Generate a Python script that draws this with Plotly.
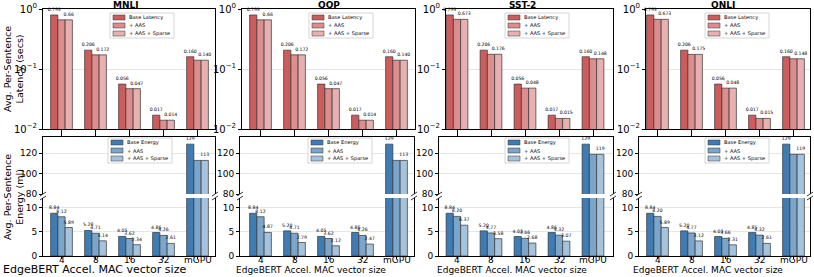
import plotly.graph_objects as go

W, H = 814, 277
FONT = "DejaVu Sans"

categories = ["4", "8", "16", "32", "mGPU"]
tasks = ["MNLI", "QQP", "SST-2", "QNLI"]
lat_names = ["Base Latency", "+ AAS", "+ AAS + Sparse"]
eng_names = ["Base Energy", "+ AAS", "+ AAS + Sparse"]

# Avg. per-sentence latency (secs)
lat_base_mnli = [0.795, 0.206, 0.056, 0.017, 0.160]
lat_aas_mnli = [0.660, 0.172, 0.047, 0.014, 0.140]
lat_sparse_mnli = [0.660, 0.172, 0.047, 0.014, 0.140]
lat_base_qqp = [0.795, 0.206, 0.056, 0.017, 0.160]
lat_aas_qqp = [0.660, 0.172, 0.047, 0.014, 0.140]
lat_sparse_qqp = [0.660, 0.172, 0.047, 0.014, 0.140]
lat_base_sst2 = [0.795, 0.206, 0.056, 0.017, 0.160]
lat_aas_sst2 = [0.673, 0.176, 0.048, 0.015, 0.148]
lat_sparse_sst2 = [0.673, 0.176, 0.048, 0.015, 0.148]
lat_base_qnli = [0.795, 0.206, 0.056, 0.017, 0.160]
lat_aas_qnli = [0.673, 0.175, 0.048, 0.015, 0.148]
lat_sparse_qnli = [0.673, 0.175, 0.048, 0.015, 0.148]

# Avg. per-sentence energy (mJ)
eng_base_mnli = [8.84, 5.28, 4.05, 4.86, 129]
eng_aas_mnli = [8.12, 4.71, 3.62, 4.26, 113]
eng_sparse_mnli = [5.89, 3.14, 2.34, 2.61, 113]
eng_base_qqp = [8.84, 5.20, 4.05, 4.86, 129]
eng_aas_qqp = [8.12, 4.71, 3.62, 4.26, 113]
eng_sparse_qqp = [4.87, 2.79, 2.12, 2.47, 113]
eng_base_sst2 = [8.84, 5.20, 4.03, 4.86, 129]
eng_aas_sst2 = [8.20, 4.77, 3.66, 4.32, 119]
eng_sparse_sst2 = [6.37, 3.58, 2.68, 3.07, 119]
eng_base_qnli = [8.84, 5.20, 4.03, 4.85, 129]
eng_aas_qnli = [8.20, 4.77, 3.66, 4.32, 119]
eng_sparse_qnli = [5.89, 3.12, 2.31, 2.61, 119]

latency = [
    (lat_base_mnli, lat_aas_mnli, lat_sparse_mnli),
    (lat_base_qqp, lat_aas_qqp, lat_sparse_qqp),
    (lat_base_sst2, lat_aas_sst2, lat_sparse_sst2),
    (lat_base_qnli, lat_aas_qnli, lat_sparse_qnli),
]
energy = [
    (eng_base_mnli, eng_aas_mnli, eng_sparse_mnli),
    (eng_base_qqp, eng_aas_qqp, eng_sparse_qqp),
    (eng_base_sst2, eng_aas_sst2, eng_sparse_sst2),
    (eng_base_qnli, eng_aas_qnli, eng_sparse_qnli),
]

reds = ["#cd5c5c", "#dc8d8d", "#e8b0b0"]
blues = ["#3f7cb3", "#7ba5ca", "#a6c3de"]

# layout geometry (pixels)
top_x = [(43, 215), (242, 415), (446, 613), (646, 810)]
bot_x = [(43, 215), (240, 414), (439, 613), (639, 810)]
g0 = [61.5, 260.5, 457, 657.5]
unit = 34.0
TOP_Y = (9, 129)
UP_Y = (137, 194)
LOW_Y = (198, 256)
title_cx = [126, 329, 522, 723]
xtitle_cx = [94, 311, 512, 708]
xtitle_fs = [11, 9, 9, 9]


def px(x):
    return x / W


def py(y):
    return 1 - y / H


def lat_label(v):
    s = f"{v:.3f}"
    return "0.66" if s == "0.660" else s


def eng_label(v, i):
    return f"{v:.0f}" if i == 4 else f"{v:.2f}"


fig = go.Figure()
layout = {}
shapes = []
annotations = []

axis_common = dict(
    showline=True, linecolor="black", linewidth=1, ticks="outside",
    ticklen=3, tickwidth=0.8, tickcolor="black", automargin=False,
    tickfont=dict(family=FONT, size=9, color="black"), zeroline=False,
)

for p in range(4):
    n_top, n_up, n_low = 3 * p + 1, 3 * p + 2, 3 * p + 3

    def ax(n):
        return ("x" if n == 1 else f"x{n}", "y" if n == 1 else f"y{n}")

    # ---- latency panel
    xa, ya = ax(n_top)
    for k in range(3):
        vals = latency[p][k]
        if k == 1:
            txt = [""] * len(vals)
        else:
            txt = [lat_label(v) for v in vals]
        fig.add_trace(go.Bar(
            x=categories, y=vals, xaxis=xa, yaxis=ya, name=lat_names[k],
            marker=dict(color=reds[k], line=dict(color="#333333", width=0.7)),
            text=txt, textposition="outside", textangle=0,
            constraintext="none", cliponaxis=False,
            textfont=dict(family=FONT, size=4.6, color="black"),
            showlegend=False,
        ))
    l, r = top_x[p]
    rng = [(l - g0[p]) / unit, (r - g0[p]) / unit]
    layout["xaxis" if n_top == 1 else f"xaxis{n_top}"] = dict(
        axis_common, domain=[px(l), px(r)], range=rng, anchor=ya,
        mirror=True, showticklabels=False, showgrid=False, type="category",
    )
    layout["yaxis" if n_top == 1 else f"yaxis{n_top}"] = dict(
        axis_common, domain=[py(TOP_Y[1]), py(TOP_Y[0])], type="log",
        range=[-2, 0], anchor=xa, mirror=True,
        tickvals=[0.01, 0.1, 1],
        ticktext=["10<sup>\u22122</sup>", "10<sup>\u22121</sup>", "10<sup>0</sup>"],
        showgrid=True, gridcolor="#e6e6e6", gridwidth=0.8,
        tickfont=dict(family=FONT, size=10, color="black"),
    )

    # ---- energy panels (broken axis)
    l, r = bot_x[p]
    rng = [(l - g0[p]) / unit, (r - g0[p]) / unit]
    for n, part in ((n_up, "up"), (n_low, "low")):
        xa, ya = ax(n)
        for k in range(3):
            vals = energy[p][k]
            txt = []
            for i, v in enumerate(vals):
                if part == "up":
                    txt.append(eng_label(v, i) if (i == 4 and k != 1) else "")
                else:
                    txt.append(eng_label(v, i) if i < 4 else "")
            fig.add_trace(go.Bar(
                x=categories, y=vals, xaxis=xa, yaxis=ya, name=eng_names[k],
                marker=dict(color=blues[k], line=dict(color="#333333", width=0.7)),
                text=txt, textposition="outside", textangle=0,
                constraintext="none", cliponaxis=True,
                textfont=dict(family=FONT, size=4.6, color="black"),
                showlegend=False,
            ))
        if part == "up":
            layout[f"xaxis{n}"] = dict(
                axis_common, domain=[px(l), px(r)], range=rng, anchor=ya,
                side="top", mirror=False, showticklabels=False,
                showgrid=False, type="category",
            )
            layout[f"yaxis{n}"] = dict(
                axis_common, domain=[py(UP_Y[1]), py(UP_Y[0])],
                range=[80, 136], anchor=xa, mirror=True,
                tickvals=[80, 100, 120], showgrid=True,
                gridcolor="#e6e6e6", gridwidth=0.8,
            )
        else:
            layout[f"xaxis{n}"] = dict(
                axis_common, domain=[px(l), px(r)], range=rng, anchor=ya,
                side="bottom", mirror=False, showticklabels=False,
                showgrid=False, type="category", ticklen=2,
            )
            layout[f"yaxis{n}"] = dict(
                axis_common, domain=[py(LOW_Y[1]), py(LOW_Y[0])],
                range=[0, 12], anchor=xa, mirror=True,
                tickvals=[0, 5, 10], showgrid=True,
                gridcolor="#e6e6e6", gridwidth=0.8,
            )
            # category tick labels, placed through the x axis scale (by index)
            for ci, c in enumerate(categories):
                annotations.append(dict(
                    text=c, x=ci, xref=xa, y=py(260), yref="paper",
                    xanchor="center", yanchor="middle", showarrow=False,
                    font=dict(family=FONT, size=9, color="black"),
                ))

    # break marks
    for xs in (l, r):
        for ys in (UP_Y[1], LOW_Y[0]):
            shapes.append(dict(
                type="line", xref="paper", yref="paper",
                x0=px(xs - 3), y0=py(ys + 2), x1=px(xs + 3), y1=py(ys - 2),
                line=dict(color="black", width=0.8),
            ))

    # titles
    annotations.append(dict(
        text=f"<b>{tasks[p]}</b>", x=px(title_cx[p]), y=py(4.8),
        xref="paper", yref="paper", xanchor="center", yanchor="middle",
        showarrow=False, font=dict(family=FONT, size=9, color="black"),
    ))
    annotations.append(dict(
        text="EdgeBERT Accel. MAC vector size", x=px(xtitle_cx[p]), y=py(269.5),
        xref="paper", yref="paper", xanchor="center", yanchor="middle",
        showarrow=False, font=dict(family=FONT, size=xtitle_fs[p], color="black"),
    ))

    # manual legends
    for (lx, ty, cols, names) in (
        ([110, 309, 505, 705][p], 13, reds, lat_names),
        ([108, 308, 505, 705][p], 138, blues, eng_names),
    ):
        shapes.append(dict(
            type="rect", xref="paper", yref="paper",
            x0=px(lx), x1=px(lx + 64), y0=py(ty), y1=py(ty + 25),
            line=dict(color="#cccccc", width=0.8), fillcolor="rgba(255,255,255,0.85)",
        ))
        for i in range(3):
            yc = ty + 4.5 + 8 * i
            shapes.append(dict(
                type="rect", xref="paper", yref="paper",
                x0=px(lx + 3), x1=px(lx + 15), y0=py(yc + 2.5), y1=py(yc - 2.5),
                line=dict(color="#333333", width=0.5), fillcolor=cols[i],
            ))
            annotations.append(dict(
                text=names[i], x=px(lx + 17), y=py(yc),
                xref="paper", yref="paper", xanchor="left", yanchor="middle",
                showarrow=False, font=dict(family=FONT, size=5.1, color="black"),
            ))

# y-axis titles
annotations.append(dict(
    text="Avg. Per-Sentence<br>Latency (secs)", x=px(13), y=py(69),
    xref="paper", yref="paper", xanchor="center", yanchor="middle",
    textangle=-90, showarrow=False, font=dict(family=FONT, size=9.5, color="black"),
))
annotations.append(dict(
    text="Avg. Per-Sentence<br>Energy (mJ)", x=px(13), y=py(197),
    xref="paper", yref="paper", xanchor="center", yanchor="middle",
    textangle=-90, showarrow=False, font=dict(family=FONT, size=9.5, color="black"),
))

fig.update_layout(
    **layout,
    template="none",
    width=W, height=H,
    margin=dict(l=0, r=0, t=0, b=0, autoexpand=False),
    paper_bgcolor="white", plot_bgcolor="white",
    barmode="group", bargap=0.36, bargroupgap=0,
    shapes=shapes, annotations=annotations,
    font=dict(family=FONT, color="black"),
    showlegend=False,
)

fig.write_html(
    "out.html",
    config={"displayModeBar": False},
    post_script="document.body.style.margin='0';document.body.style.padding='0';",
)
